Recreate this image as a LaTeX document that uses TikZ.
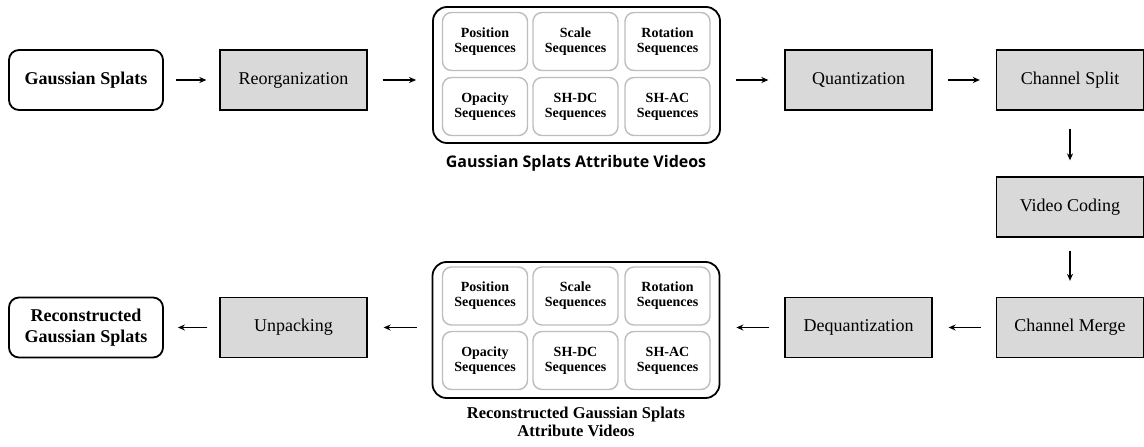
\documentclass[tikz,border=0pt]{standalone}
\usepackage{fontspec}
\setmainfont{Liberation Serif}
\newfontfamily\capfont{Open Sans}
\usetikzlibrary{arrows.meta}
\definecolor{boxgray}{HTML}{D9D9D9}
\definecolor{cellgray}{HTML}{BDBDBD}
\tikzset{
  endbox/.style={draw,line width=1.8pt,rounded corners=10pt,minimum width=154pt,minimum height=60pt,
    inner sep=0pt,align=center,font=\fontsize{18}{21}\selectfont\bfseries},
  stage/.style={draw,line width=1.3pt,fill=boxgray,minimum width=147pt,minimum height=60pt,
    inner sep=0pt,font=\fontsize{18}{21}\selectfont},
  holder/.style={draw,line width=1.8pt,rounded corners=14pt,minimum width=287pt,minimum height=136pt,inner sep=0pt},
  cell/.style={draw=cellgray,line width=1.4pt,rounded corners=9pt,fill=white,minimum width=85pt,minimum height=58pt,
    inner sep=0pt,align=center,font=\fontsize{14}{15}\selectfont\bfseries},
  arr/.style={-{Stealth[length=7pt,width=6pt]},line width=1.2pt,shorten <=15pt,shorten >=16pt},
}
\begin{document}
\begin{tikzpicture}[x=1pt,y=-1pt]
\useasboundingbox (0,0) rectangle (1144,447);
% top row
\node[endbox] (gs) at (86,80) {Gaussian Splats};
\node[stage] (reorg) at (293.5,80) {Reorganization};
\node[holder] (attr) at (576.5,75) {};
\node[cell] (pos) at (485,41.5) {Position\\Sequences};
\node[cell] (scl) at (575.5,41.5) {Scale\\Sequences};
\node[cell] (rot) at (667.5,41.5) {Rotation\\Sequences};
\node[cell] (opa) at (485,106.5) {Opacity\\Sequences};
\node[cell] (dc) at (575.5,106.5) {SH-DC\\Sequences};
\node[cell] (ac) at (667.5,106.5) {SH-AC\\Sequences};
\node[font=\capfont\fontsize{16}{18}\selectfont\bfseries] (attrlbl) at (576,163) {Gaussian Splats Attribute Videos};
\node[stage] (quant) at (858.5,80) {Quantization};
\node[stage] (split) at (1070,80) {Channel Split};
% right column
\node[stage] (coding) at (1070,207) {Video Coding};
\node[stage] (merge) at (1070,327.5) {Channel Merge};
% bottom row
\node[stage] (dequant) at (858.5,327.5) {Dequantization};
\node[holder] (rattr) at (576,330) {};
\node[cell] (rpos) at (485,296) {Position\\Sequences};
\node[cell] (rscl) at (575.5,296) {Scale\\Sequences};
\node[cell] (rrot) at (667.5,296) {Rotation\\Sequences};
\node[cell] (ropa) at (485,360.5) {Opacity\\Sequences};
\node[cell] (rdc) at (575.5,360.5) {SH-DC\\Sequences};
\node[cell] (rac) at (667.5,360.5) {SH-AC\\Sequences};
\node[align=center,font=\fontsize{16.5}{18}\selectfont\bfseries] (rattrlbl) at (576,422) {Reconstructed Gaussian Splats\\Attribute Videos};
\node[stage] (unpack) at (293.5,327.5) {Unpacking};
\node[endbox] (rgs) at (86,327.5) {Reconstructed\\Gaussian Splats};
% arrows
\draw[arr,shorten <=12pt,shorten >=13pt] (gs) -- (reorg);
\draw[arr] (reorg.east) -- (reorg.east -| attr.west);
\draw[arr] (quant.west -| attr.east) -- (quant.west);
\draw[arr] (quant) -- (split);
\draw[arr,shorten <=18pt] (split) -- (coding);
\draw[arr,shorten <=13pt] (coding) -- (merge);
\draw[arr] (merge) -- (dequant);
\draw[arr] (dequant.west) -- (dequant.west -| rattr.east);
\draw[arr] (rattr.west |- unpack) -- (unpack);
\draw[arr,shorten <=12pt,shorten >=14pt] (unpack) -- (rgs);
\end{tikzpicture}
\end{document}
